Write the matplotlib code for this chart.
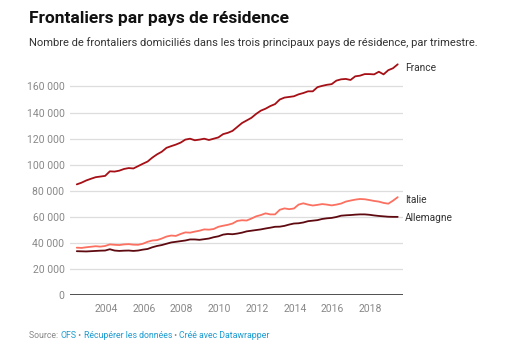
import numpy as np
import matplotlib
matplotlib.use("Agg")
import matplotlib.pyplot as plt
from matplotlib.ticker import FuncFormatter

plt.rcParams["font.family"] = ["Roboto", "DejaVu Sans"]

# quarterly series, 2002 Q2 .. 2019 Q2 (thousands)
start_year = 2002.45
france = [85.0, 86.3, 88.0, 89.3, 90.5, 91.0, 91.5, 95.0, 94.8, 95.5,
          96.8, 97.5, 97.2, 99.0, 100.8, 102.5, 105.5, 108.0, 110.0, 113.0,
          114.3, 115.5, 117.0, 119.3, 120.0, 118.8, 119.3, 120.0, 119.0, 120.0,
          121.0, 123.5, 124.5, 126.0, 129.0, 132.0, 134.0, 136.0, 139.0, 141.5,
          143.0, 145.0, 146.5, 150.0, 151.5, 152.0, 152.5, 154.0, 155.0, 156.3,
          156.3, 159.5, 160.5, 161.3, 161.8, 164.5, 165.5, 165.8, 165.0, 167.8,
          168.3, 169.5, 169.5, 169.3, 171.3, 169.3, 172.5, 174.0, 177.0]
italie = [36.5, 36.3, 36.8, 37.2, 37.6, 37.3, 37.8, 39.0, 38.7, 38.5,
          39.0, 39.2, 38.8, 38.7, 39.5, 41.0, 42.0, 42.3, 43.5, 45.0,
          45.8, 45.5, 47.0, 48.2, 48.0, 48.8, 49.5, 50.5, 50.3, 50.8,
          52.5, 53.3, 54.0, 55.0, 57.0, 57.5, 57.3, 58.8, 60.5, 61.5,
          62.8, 62.0, 62.0, 65.5, 66.6, 66.0, 66.5, 69.5, 70.5, 69.5,
          68.8, 69.3, 69.9, 69.5, 68.9, 69.5, 70.3, 71.8, 72.6, 73.3,
          73.8, 73.6, 73.0, 72.3, 71.8, 70.8, 70.2, 72.5, 75.2]
allemagne = [33.8, 33.7, 33.6, 33.8, 34.0, 34.2, 34.3, 35.3, 34.3, 34.0,
             34.2, 34.3, 34.0, 34.3, 35.0, 35.5, 36.8, 37.8, 38.5, 39.5,
             40.5, 41.0, 41.5, 42.0, 42.8, 42.8, 42.5, 43.0, 43.5, 44.5,
             45.2, 46.5, 47.0, 46.8, 47.3, 48.0, 49.0, 49.5, 50.0, 50.5,
             51.2, 51.8, 52.5, 52.6, 53.2, 54.2, 55.0, 55.2, 55.8, 56.8,
             57.2, 57.6, 58.5, 59.0, 59.3, 60.0, 61.0, 61.3, 61.5, 61.8,
             62.0, 62.0, 61.7, 61.2, 60.8, 60.5, 60.2, 60.1, 60.1]
years = [2004, 2006, 2008, 2010, 2012, 2014, 2016, 2018]
yticks = [0, 20000, 40000, 60000, 80000, 100000, 120000, 140000, 160000]

series = [("France", france, "#a50f15"),
          ("Italie", italie, "#fb7060"),
          ("Allemagne", allemagne, "#5e0a10")]

t = start_year + 0.25 * np.arange(len(france))

fig = plt.figure(figsize=(5.25, 3.49), dpi=100)
ax = fig.add_axes([70 / 525, 1 - 295.3 / 349, 333 / 525, (295.3 - 60.4) / 349])

for name, vals, col in series:
    ax.plot(t, np.array(vals) * 1000, color=col, linewidth=1.3,
            solid_capstyle="round", zorder=3)

ax.set_xlim(2002.09, 2019.73)
ax.set_ylim(0, 180000)
ax.set_yticks(yticks)
ax.set_xticks(years)
ax.yaxis.set_major_formatter(FuncFormatter(lambda v, p: "{:,.0f}".format(v).replace(",", " ")))
ax.tick_params(length=0, labelsize=7.5, labelcolor="#888888")
ax.tick_params(axis="y", pad=4)
ax.tick_params(axis="x", pad=6)
for s in ax.spines.values():
    s.set_visible(False)
ax.grid(axis="y", color="#dddddd", linewidth=0.9, zorder=1)
ax.axhline(0, color="#333333", linewidth=1.2, zorder=4)

# end labels
lab_y = {"France": 174500, "Italie": 73000, "Allemagne": 59000}
for name, vals, col in series:
    ax.text(2019.85, lab_y[name], name, fontsize=7.3, color="#333333",
            va="center", ha="left", clip_on=False)

fig.text(29 / 525, 1 - 18 / 349, "Frontaliers par pays de résidence",
         fontsize=12.5, fontweight="bold", color="#111111", va="center", ha="left")
fig.text(29 / 525, 1 - 43 / 349,
         "Nombre de frontaliers domiciliés dans les trois principaux pays de résidence, par trimestre.",
         fontsize=8, color="#333333", va="center", ha="left")

# source line, multi-coloured
parts = [("Source: ", "#888888"), ("OFS", "#1d9bd1"), (" • ", "#888888"),
         ("Récupérer les données", "#1d9bd1"), (" • ", "#888888"),
         ("Créé avec Datawrapper", "#1d9bd1")]
prev = fig.text(29 / 525, 1 - 336 / 349, parts[0][0], fontsize=6.3,
                color=parts[0][1], va="center", ha="left")
for txt, col in parts[1:]:
    prev = ax.annotate(txt, xy=(1, 0), xycoords=prev, va="bottom", ha="left",
                       fontsize=6.3, color=col, annotation_clip=False)

fig.savefig("out.png", dpi=100)
